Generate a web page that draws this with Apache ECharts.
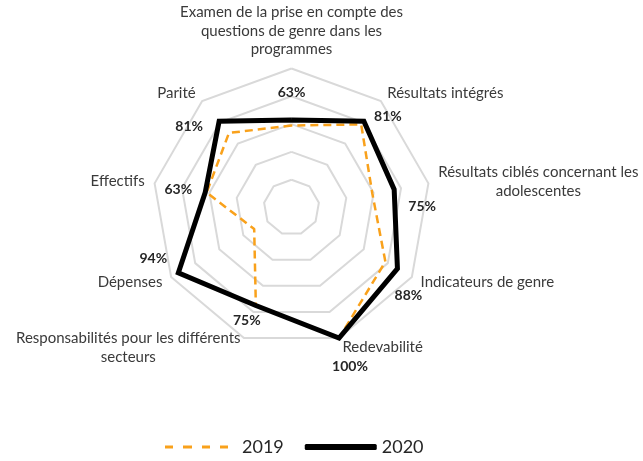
<!DOCTYPE html>
<html>
<head>
<meta charset="utf-8">
<script src="https://cdn.jsdelivr.net/npm/echarts@6/dist/echarts.min.js"></script>
<style>
  html, body { margin: 0; padding: 0; background: #ffffff; }
  #chart { width: 643px; height: 461px; }
</style>
</head>
<body>
<div id="chart"></div>
<script>
// Radar axes, listed clockwise starting at the top
const categories = [
  'Examen de la prise en compte des\nquestions de genre dans les\nprogrammes',
  'Résultats intégrés',
  'Résultats ciblés concernant les\nadolescentes',
  'Indicateurs de genre',
  'Redevabilité',
  'Responsabilités pour les différents\nsecteurs',
  'Dépenses',
  'Effectifs',
  'Parité'
];

// Scores in percent, same clockwise order
const values2019 = [59, 78, 59, 78, 100, 75, 31, 62, 70];
const values2020 = [63, 81, 75, 88, 100, 75, 94, 63, 81];

const seriesNames = ['2019', '2020'];
const axisMax = 100;
const ringCount = 5;

// Where each 2020 percentage sits relative to its vertex (dx, dy in px)
const valueLabelShift = [
  [0, -27], [24, -5], [28, 17], [11, 27], [11, 28],
  [-9, 15], [-25, -14], [-27, -3], [-30, 5]
];

const FONT = 'Lato, "Open Sans", sans-serif';
const ORANGE = '#F9A11B';

// ECharts lays radar indicators out counter-clockwise, so feed them in reverse
const order = [0].concat(categories.map((_, i) => i).slice(1).reverse());

const indicator = order.map(i => ({ name: categories[i], max: axisMax }));

// Rich styles that nudge every value label off its vertex
const valueRich = {};
valueLabelShift.forEach(([dx, dy], k) => {
  valueRich['v' + k] = {
    fontFamily: FONT,
    fontSize: 14,
    fontWeight: 'bold',
    color: '#262626',
    padding: [Math.max(0, 2 * dy), Math.max(0, -2 * dx), Math.max(0, -2 * dy), Math.max(0, 2 * dx)]
  };
});

let labelCounter = 0;
function valueLabel(params) {
  let j = params.dimensionIndex;
  if (j == null) { j = labelCounter % order.length; labelCounter++; }
  const k = order[j];
  return '{v' + k + '|' + params.value + '%}';
}

const chart = echarts.init(document.getElementById('chart'), null, { renderer: 'canvas' });

chart.setOption({
  animation: false,
  backgroundColor: '#ffffff',
  legend: {
    left: 160,
    top: 433,
    itemWidth: 72,
    itemHeight: 6,
    itemGap: 21,
    symbolKeepAspect: true,
    textStyle: { fontFamily: FONT, fontSize: 18, color: '#262626' },
    data: [
      {
        name: seriesNames[0],
        // four dashes, plus an empty strip so the dashes keep their length
        icon: 'path://M0,0h8v3h-8z M18,0h9v3h-9z M37,0h8v3h-8z M55,0h8v3h-8z M72,0h0v3h0z',
        itemStyle: { color: ORANGE, borderWidth: 0 }
      },
      {
        name: seriesNames[1],
        icon: 'roundRect',
        itemStyle: { color: '#000000', borderWidth: 0 }
      }
    ]
  },
  radar: {
    center: [291.5, 207.5],
    radius: 139,
    startAngle: 90,
    splitNumber: ringCount,
    shape: 'polygon',
    nameGap: 10,
    indicator: indicator,
    axisName: {
      formatter: name => name.split('\n').map(line => '{c|' + line + '}').join('\n'),
      rich: {
        c: { align: 'center', fontFamily: FONT, fontSize: 15, lineHeight: 18.5, color: '#3a3a3a' }
      }
    },
    splitLine: { lineStyle: { color: '#d9d9d9', width: 2 } },
    splitArea: { show: false },
    axisLine: { show: false },
    axisTick: { show: false },
    axisLabel: { show: false }
  },
  series: [{
    type: 'radar',
    symbol: 'circle',
    symbolSize: 0,
    data: [
      {
        name: seriesNames[0],
        value: order.map(i => values2019[i]),
        lineStyle: { color: ORANGE, width: 2.5, type: [8, 5] },
        itemStyle: { color: ORANGE },
        label: { show: false }
      },
      {
        name: seriesNames[1],
        value: order.map(i => values2020[i]),
        lineStyle: { color: '#000000', width: 5, join: 'miter' },
        itemStyle: { color: '#000000' },
        label: {
          show: true,
          position: 'inside',
          formatter: valueLabel,
          rich: valueRich
        }
      }
    ]
  }]
});
</script>
</body>
</html>
